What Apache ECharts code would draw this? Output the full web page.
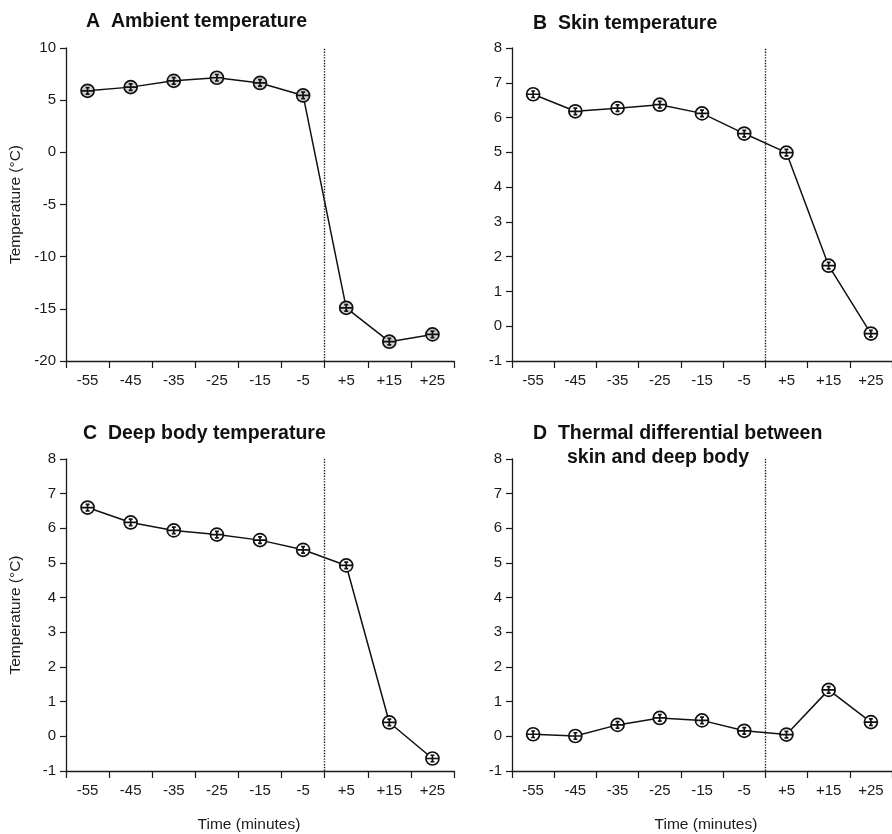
<!DOCTYPE html>
<html>
<head>
<meta charset="utf-8">
<script src="https://cdn.jsdelivr.net/npm/echarts@6/dist/echarts.min.js"></script>
<style>
html,body{margin:0;padding:0;background:#fff;}
#chart{width:892px;height:834px;}
</style>
</head>
<body>
<div id="chart"></div>
<script>
// ---- data ----
const timeVals = [-55, -45, -35, -25, -15, -5, 5, 15, 25];
const timeLabels = ['-55', '-45', '-35', '-25', '-15', '-5', '+5', '+15', '+25'];
const ambient = [5.9, 6.25, 6.85, 7.15, 6.65, 5.45, -14.9, -18.15, -17.45];
const skin = [6.67, 6.18, 6.27, 6.37, 6.12, 5.54, 4.99, 1.74, -0.21];
const deepBody = [6.60, 6.17, 5.94, 5.82, 5.66, 5.38, 4.93, 0.40, -0.64];
const differential = [0.06, 0.01, 0.33, 0.53, 0.46, 0.16, 0.05, 1.34, 0.41];
const exposureStart = 0;

const FONT = "'Liberation Sans', Arial, sans-serif";
const INK = '#1a1a1a';
const markerPath = 'path://M0,-10A10,10,0,1,1,0,10A10,10,0,1,1,0,-10Z M-10,0L10,0 M0,-5L0,5 M-3,-5L3,-5 M-3,5L3,5';

const panels = [
  {left: 66, top: 48, height: 313, yMin: -20, yMax: 10, yInt: 5, values: ambient, fill: '#d2d2d2', yName: 'Temperature (°C)', xName: ''},
  {left: 512, top: 48, height: 313, yMin: -1, yMax: 8, yInt: 1, values: skin, fill: '#ffffff', yName: '', xName: ''},
  {left: 66, top: 459, height: 313, yMin: -1, yMax: 8, yInt: 1, values: deepBody, fill: '#ffffff', yName: 'Temperature (°C)', xName: 'Time (minutes)', xPad: [0, 22, 0, 0]},
  {left: 512, top: 459, height: 312, yMin: -1, yMax: 8, yInt: 1, values: differential, fill: '#ffffff', yName: '', xName: 'Time (minutes)', xPad: [0, 0, 0, 8]}
];

const grid = [], xAxis = [], yAxis = [], series = [];
panels.forEach((p, i) => {
  grid.push({left: p.left, top: p.top, width: 388, height: p.height});
  // value axis: carries data, ticks and axis line
  xAxis.push({
    type: 'value', gridIndex: i, position: 'bottom', min: -60, max: 30, interval: 10,
    axisLine: {show: true, onZero: false, lineStyle: {color: INK, width: 1.3}},
    axisTick: {show: true, length: 7, lineStyle: {color: INK, width: 1.2}},
    axisLabel: {show: false}, splitLine: {show: false}
  });
  // category axis: labels centred between ticks
  xAxis.push({
    type: 'category', gridIndex: i, position: 'bottom', data: timeLabels, boundaryGap: true,
    axisLine: {show: false, onZero: false}, axisTick: {show: false}, splitLine: {show: false},
    axisLabel: {show: true, margin: 12, fontSize: 15, color: INK, fontFamily: FONT},
    name: p.xName, nameLocation: 'middle', nameGap: 46,
    nameTextStyle: {fontSize: 15.5, color: INK, fontFamily: FONT, padding: p.xPad || 0}
  });
  yAxis.push({
    type: 'value', gridIndex: i, position: 'left', min: p.yMin, max: p.yMax, interval: p.yInt,
    axisLine: {show: true, onZero: false, lineStyle: {color: INK, width: 1.3}},
    axisTick: {show: true, length: 6, lineStyle: {color: INK, width: 1.2}},
    axisLabel: {margin: 10, fontSize: 15, color: INK, fontFamily: FONT},
    splitLine: {show: false},
    name: p.yName, nameLocation: 'middle', nameRotate: 90, nameGap: 42,
    nameTextStyle: {fontSize: 15.5, color: INK, fontFamily: FONT}
  });
  series.push({
    type: 'line', xAxisIndex: i * 2, yAxisIndex: i,
    data: timeVals.map((t, k) => [t, p.values[k]]),
    symbol: markerPath, symbolSize: 13,
    itemStyle: {color: p.fill, borderColor: '#111', borderWidth: 1.7},
    lineStyle: {color: '#111', width: 1.5},
    z: 3,
    markLine: {
      silent: true, symbol: 'none', label: {show: false},
      lineStyle: {color: '#222', type: 'dotted', width: 1.4},
      data: [{xAxis: exposureStart}]
    }
  });
});

const titleStyle = {fontSize: 19.5, fontWeight: 'bold', color: '#111', fontFamily: FONT};
const title = [
  {text: 'A  Ambient temperature', left: 86, top: 12, textStyle: titleStyle},
  {text: 'B  Skin temperature', left: 533, top: 14, textStyle: titleStyle},
  {text: 'C  Deep body temperature', left: 83, top: 424, textStyle: titleStyle},
  {text: 'D  Thermal differential between', left: 533, top: 424, textStyle: titleStyle},
  {text: 'skin and deep body', left: 567, top: 448, textStyle: titleStyle}
];

const chart = echarts.init(document.getElementById('chart'), null, {renderer: 'canvas'});
chart.setOption({
  backgroundColor: '#ffffff',
  animation: false,
  title: title.map(t => Object.assign({padding: 0}, t)),
  grid, xAxis, yAxis, series
});
</script>
</body>
</html>
